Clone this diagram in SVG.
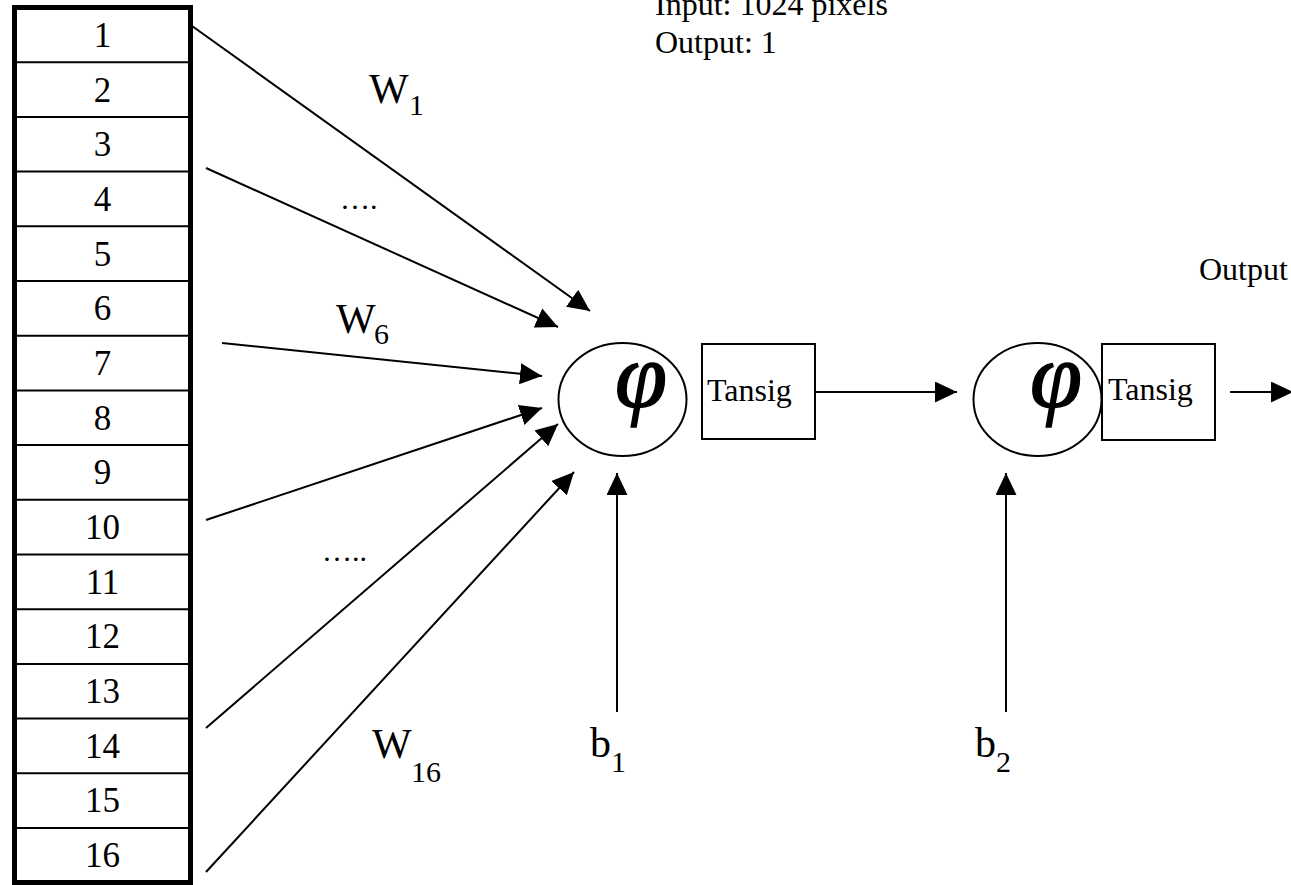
<svg xmlns="http://www.w3.org/2000/svg" width="1291" height="885" viewBox="0 0 1291 885">
<style>
text{font-family:"Liberation Serif","Times New Roman",serif;fill:#000}
.num{font-size:35px;text-anchor:middle}
.lbl{font-size:32px}
.big{font-size:42px}
.sub{font-size:30px}
.dots{font-size:30px}
.row{stroke:#000;stroke-width:2}
.con{stroke:#000;stroke-width:2;fill:none;marker-end:url(#ah)}
.shape{fill:#fff;stroke:#000;stroke-width:2}
.phi{font-size:94px;font-style:italic;text-anchor:middle;stroke:#000;stroke-width:1.5}
</style>
<defs>
<marker id="ah" markerUnits="userSpaceOnUse" markerWidth="22" markerHeight="21" viewBox="0 0 21 20" refX="21" refY="10" orient="auto">
<path d="M0,0 L21,10 L0,20 Z" fill="#000"/>
</marker>
</defs>
<rect width="1291" height="885" fill="#fff"/>

<g id="input-table">
<rect x="14.5" y="7.5" width="176" height="875" fill="#fff" stroke="#000" stroke-width="5"/>
<line class="row" x1="17" y1="62.2" x2="188" y2="62.2"/>
<line class="row" x1="17" y1="116.9" x2="188" y2="116.9"/>
<line class="row" x1="17" y1="171.6" x2="188" y2="171.6"/>
<line class="row" x1="17" y1="226.3" x2="188" y2="226.3"/>
<line class="row" x1="17" y1="281" x2="188" y2="281"/>
<line class="row" x1="17" y1="335.7" x2="188" y2="335.7"/>
<line class="row" x1="17" y1="390.4" x2="188" y2="390.4"/>
<line class="row" x1="17" y1="445.1" x2="188" y2="445.1"/>
<line class="row" x1="17" y1="499.8" x2="188" y2="499.8"/>
<line class="row" x1="17" y1="554.5" x2="188" y2="554.5"/>
<line class="row" x1="17" y1="609.2" x2="188" y2="609.2"/>
<line class="row" x1="17" y1="663.9" x2="188" y2="663.9"/>
<line class="row" x1="17" y1="718.6" x2="188" y2="718.6"/>
<line class="row" x1="17" y1="773.3" x2="188" y2="773.3"/>
<line class="row" x1="17" y1="828" x2="188" y2="828"/>
<text class="num" x="102.5" y="47">1</text>
<text class="num" x="102.5" y="101.7">2</text>
<text class="num" x="102.5" y="156.3">3</text>
<text class="num" x="102.5" y="211">4</text>
<text class="num" x="102.5" y="265.7">5</text>
<text class="num" x="102.5" y="320.4">6</text>
<text class="num" x="102.5" y="375">7</text>
<text class="num" x="102.5" y="429.7">8</text>
<text class="num" x="102.5" y="484.4">9</text>
<text class="num" x="102.5" y="539">10</text>
<text class="num" x="102.5" y="593.7">11</text>
<text class="num" x="102.5" y="648.4">12</text>
<text class="num" x="102.5" y="703">13</text>
<text class="num" x="102.5" y="757.7">14</text>
<text class="num" x="102.5" y="812.4">15</text>
<text class="num" x="102.5" y="867">16</text>
</g>

<g id="connectors">
<line class="con" x1="192" y1="26" x2="590" y2="311"/>
<line class="con" x1="206" y1="168" x2="558" y2="327"/>
<line class="con" x1="222" y1="343" x2="542" y2="376"/>
<line class="con" x1="206" y1="520" x2="542" y2="408"/>
<line class="con" x1="206" y1="728" x2="558" y2="424"/>
<line class="con" x1="206" y1="872" x2="574" y2="472"/>
<line class="con" x1="815" y1="392" x2="957" y2="392"/>
<line class="con" x1="617" y1="712" x2="617" y2="473"/>
<line class="con" x1="1006" y1="712" x2="1006" y2="473"/>
<line class="con" x1="1230" y1="392" x2="1293" y2="392"/>
</g>

<g id="weight-labels">
<text class="big" x="369" y="103">W</text><text class="sub" x="409" y="115">1</text>
<text class="dots" x="340" y="209">….</text>
<text class="big" x="336" y="333">W</text><text class="sub" x="374" y="344">6</text>
<text class="dots" x="322" y="561">…..</text>
<text class="big" x="372" y="758">W</text><text class="sub" x="411" y="782">16</text>
</g>

<g id="neuron1">
<ellipse class="shape" cx="622.5" cy="399.5" rx="64" ry="56.5"/>
<text class="phi" x="641" y="407">φ</text>
</g>
<g id="tansig1">
<rect class="shape" x="702" y="344" width="113" height="95"/>
<text class="lbl" x="707" y="401">Tansig</text>
</g>
<g id="neuron2">
<ellipse class="shape" cx="1037.5" cy="399.5" rx="64" ry="56.5"/>
<text class="phi" x="1056" y="407">φ</text>
</g>
<g id="tansig2">
<rect class="shape" x="1102" y="344" width="113" height="96"/>
<text class="lbl" x="1108" y="400">Tansig</text>
</g>

<g id="bias1">
<text class="big" x="590" y="757">b</text><text class="sub" x="611" y="772">1</text>
</g>
<g id="bias2">
<text class="big" x="975" y="757">b</text><text class="sub" x="996" y="772">2</text>
</g>

<g id="notes">
<text class="lbl" x="655" y="15">Input: 1024 pixels</text>
<text class="lbl" x="655" y="53">Output: 1</text>
<text class="lbl" x="1199" y="280">Output</text>
</g>
</svg>
